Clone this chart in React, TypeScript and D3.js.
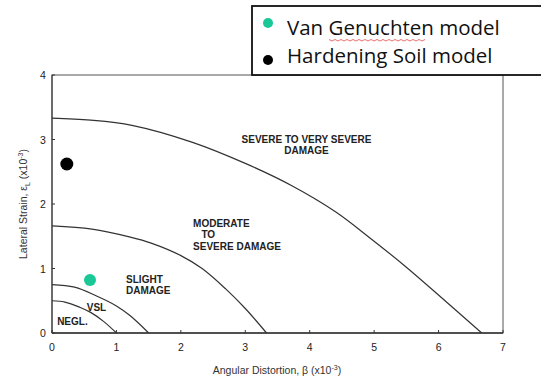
import React from "react";
import * as d3 from "d3";

const xTicks = [0, 1, 2, 3, 4, 5, 6, 7];
const yTicks = [0, 1, 2, 3, 4];

const neglCurve: [number, number][] = [
  [0, 0.5], [0.2, 0.48], [0.43, 0.4], [0.6, 0.32], [0.8, 0.18], [1.0, 0],
];
const vslCurve: [number, number][] = [
  [0, 0.75], [0.35, 0.71], [0.7, 0.57], [1.0, 0.42], [1.21, 0.27], [1.5, 0],
];
const slightCurve: [number, number][] = [
  [0, 1.66], [0.62, 1.61], [1.2, 1.49], [1.55, 1.39], [2.0, 1.2], [2.33, 1.0], [2.7, 0.68], [3.0, 0.38], [3.33, 0],
];
const severeCurve: [number, number][] = [
  [0, 3.33], [0.6, 3.3], [1.24, 3.22], [2.17, 2.96], [3.0, 2.63], [3.73, 2.28], [4.4, 1.88], [4.94, 1.47], [5.5, 1.02], [6.1, 0.5], [6.67, 0],
];

const vanGenuchten = { beta: 0.59, eps: 0.82 };
const hardeningSoil = { beta: 0.23, eps: 2.62 };

const legendItems = [
  { label: "Van Genuchten model", color: "#19c896" },
  { label: "Hardening Soil model", color: "#000000" },
];

const zoneLabels = [
  { lines: ["SEVERE TO VERY SEVERE", "DAMAGE"], x: 3.95, y: 2.95, anchor: "middle" },
  { lines: ["MODERATE", "   TO", "SEVERE DAMAGE"], x: 2.19, y: 1.65, anchor: "start" },
  { lines: ["SLIGHT", "DAMAGE"], x: 1.15, y: 0.78, anchor: "start" },
  { lines: ["VSL"], x: 0.54, y: 0.34, anchor: "start" },
  { lines: ["NEGL."], x: 0.08, y: 0.13, anchor: "start" },
];

export default function App() {
  const W = 541, H = 383;
  const x = d3.scaleLinear().domain([0, 7]).range([52, 503]);
  const y = d3.scaleLinear().domain([0, 4]).range([333, 75]);
  const line = d3
    .line<[number, number]>()
    .x((d) => x(d[0]))
    .y((d) => y(d[1]))
    .curve(d3.curveCatmullRom.alpha(0.5));
  const curves = [neglCurve, vslCurve, slightCurve, severeCurve];
  const font = "Liberation Sans, Arial, sans-serif";

  // squiggle under "Genuchten"
  const sq: string[] = [];
  for (let i = 0; i <= 32; i++) {
    const px = 329 + i * 3;
    const py = 39.5 + (i % 2 === 0 ? 0 : 1.5);
    sq.push(`${i === 0 ? "M" : "L"}${px},${py}`);
  }

  return (
    <svg
      width={W}
      height={H}
      style={{ position: "absolute", left: 0, top: 0, background: "#fff" }}
      fontFamily={font}
    >
      <rect x={0} y={0} width={W} height={H} fill="#fff" />
      {/* plot frame */}
      <rect x={x(0)} y={y(4)} width={x(7) - x(0)} height={y(0) - y(4)} fill="none" stroke="#555" strokeWidth={1} />
      <line x1={x(0)} x2={x(7)} y1={y(0)} y2={y(0)} stroke="#333" strokeWidth={1.5} />
      <line x1={x(0)} x2={x(0)} y1={y(0)} y2={y(4)} stroke="#444" strokeWidth={1.2} />
      {/* ticks */}
      {xTicks.map((t) => (
        <g key={"xt" + t}>
          <line x1={x(t)} x2={x(t)} y1={y(0)} y2={y(0) - 3} stroke="#333" strokeWidth={1} />
          <text x={x(t)} y={351} textAnchor="middle" fontSize={10.5} fill="#222">{t}</text>
        </g>
      ))}
      {yTicks.map((t) => (
        <g key={"yt" + t}>
          <line x1={x(0)} x2={x(0) + 3} y1={y(t)} y2={y(t)} stroke="#333" strokeWidth={1} />
          <text x={43} y={y(t) + 4} textAnchor="middle" fontSize={10.5} fill="#222">{t}</text>
        </g>
      ))}
      {/* axis titles */}
      <text x={277} y={374} textAnchor="middle" fontSize={10.5} fill="#333">
        Angular Distortion, β (x10
        <tspan dy={-4} fontSize={7}>-3</tspan>
        <tspan dy={4}>)</tspan>
      </text>
      <text transform={`translate(27,${204}) rotate(-90)`} textAnchor="middle" fontSize={10.5} fill="#333">
        Lateral Strain, ε
        <tspan dy={3} fontSize={7}>L</tspan>
        <tspan dy={-3}> (x10</tspan>
        <tspan dy={-4} fontSize={7}>-3</tspan>
        <tspan dy={4}>)</tspan>
      </text>
      {/* curves */}
      {curves.map((c, i) => (
        <path key={"c" + i} d={line(c) || ""} fill="none" stroke="#333" strokeWidth={1.2} />
      ))}
      {/* zone labels */}
      {zoneLabels.map((z, i) => (
        <text key={"z" + i} x={x(z.x)} y={y(z.y)} textAnchor={z.anchor as any} fontSize={10} fontWeight="bold" fill="#222">
          {z.lines.map((l, j) => (
            <tspan key={j} x={x(z.x)} dy={j === 0 ? 0 : 11.5} style={{ whiteSpace: "pre" }}>{l}</tspan>
          ))}
        </text>
      ))}
      {/* data points */}
      <circle cx={x(hardeningSoil.beta)} cy={y(hardeningSoil.eps)} r={6.5} fill="#000" />
      <circle cx={x(vanGenuchten.beta)} cy={y(vanGenuchten.eps)} r={6} fill="#19c896" />
      {/* legend */}
      <rect x={252} y={6} width={300} height={69} fill="#fff" stroke="#111" strokeWidth={1.8} />
      {legendItems.map((it, i) => (
        <g key={"lg" + i}>
          <circle cx={268} cy={23 + i * 37} r={5} fill={it.color} />
          <text x={287} y={35 + i * 28} fontSize={20.5} fontFamily="Open Sans, sans-serif" fill="#111">{it.label}</text>
        </g>
      ))}
      <path d={sq.join(" ")} fill="none" stroke="#e03030" strokeWidth={0.7} />
    </svg>
  );
}
